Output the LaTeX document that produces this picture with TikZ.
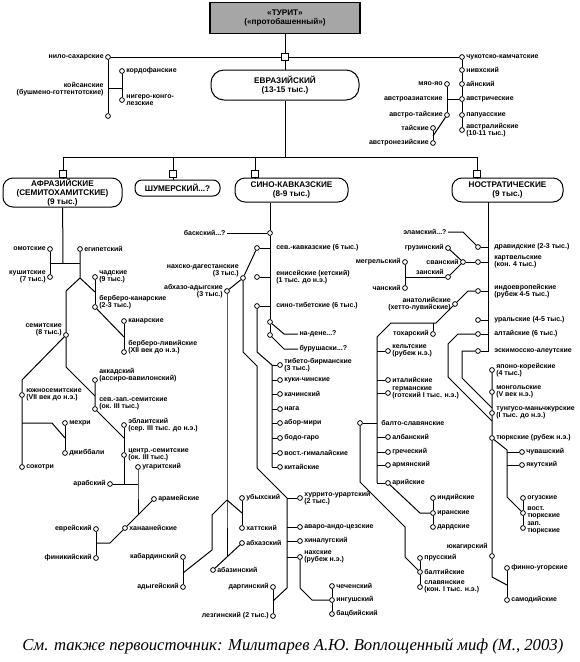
\documentclass[tikz,border=0pt]{standalone}
\usepackage{fontspec}
\setmainfont{Liberation Sans}
\newfontfamily\capfont{Liberation Serif}
\newcommand{\lblfont}{\fontsize{7}{7.4}\selectfont\bfseries}
\newcommand{\boxfont}{\fontsize{8.2}{8.7}\selectfont\bfseries}
\begin{document}
\begin{tikzpicture}[x=1pt,y=-1pt,line width=1pt]
\tikzstyle{dot}=[draw,circle,fill=white,inner sep=0pt,minimum size=4.8pt,line width=0.8pt]
\tikzstyle{sq}=[draw,fill=white,inner sep=0pt,minimum size=6.5pt,line width=0.8pt]
\tikzstyle{lbl}=[font=\lblfont,inner sep=1pt,align=left]
\tikzstyle{fam}=[draw,fill=white,rounded corners=10pt,inner sep=0pt,font=\boxfont,align=center,line width=1pt]
\tikzset{rt/.style={label={[lbl]0:#1}},lt/.style={label={[lbl,align=right]180:#1}},
rtu/.style={label={[lbl,yshift=5pt]0:#1}},ltu/.style={label={[lbl,align=right,yshift=5pt]180:#1}},
rtm/.style={label={[lbl,label distance=12pt]0:#1}},rtc/.style={label={[lbl,label distance=15pt]0:#1}}}
\useasboundingbox (0,0) rectangle (579,662);

\node[draw,fill=black!35,line width=1.2pt,minimum width=150pt,minimum height=31pt,font=\boxfont,align=center,inner sep=0pt] (turit) at (285,18) {«ТУРИТ»\\(«протобашенный»)};
\node[sq] (sqt) at (285,57) {};
\node[fam,minimum width=148pt,minimum height=30pt,rounded corners=13pt] (eur) at (285,85) {ЕВРАЗИЙСКИЙ\\(13-15 тыс.)};
\coordinate (bus) at (285,157);
\draw (turit) -- (sqt) -- (eur) -- (bus);

\path (108,57) node[dot,lt={нило-сахарские}] (ns) {}
 (108,116) node[dot] (nsb) {}
 (122,71) node[dot,rt={кордофанские}] (kord) {}
 (122,100) node[dot,rt={нигеро-конго-\\лезские}] (nk) {};
\coordinate (ks) at (108,88);
\coordinate (ksj) at (122,88);
\node[lbl,align=right,anchor=east] (ksl) at (105,89) {койсанские\\(бушмено-готтентотские)};
\draw (ns) -- (nsb);
\draw (ks) -- (ksj);
\draw (kord) -- (nk);

\path (462,57) node[dot,rt={чукотско-камчатские}] (chk) {}
 (462,70) node[dot,rt={нивхский}] (niv) {}
 (462,84) node[dot,rt={айнский}] (ain) {}
 (462,99) node[dot,rt={австрические}] (austr) {}
 (462,115) node[dot,rt={папуасские}] (pap) {}
 (462,130) node[dot,rt={австралийские\\(10-11 тыс.)}] (ausl) {};
\draw (chk) -- (niv) -- (ain) -- (austr) -- (pap) -- (ausl);
\draw (ns) -- (sqt) -- (chk);

\path (447,84) node[dot,lt={мяо-яо}] (miao) {}
 (447,115) node[dot,lt={австро-тайские}] (autai) {}
 (433,128) node[dot,lt={тайские}] (tai) {}
 (433,143) node[dot,lt={австронезийские}] (an) {};
\coordinate (aaj) at (447,99);
\coordinate (taj) at (433,136);
\node[lbl,anchor=east] (aal) at (444,99) {австроазиатские};
\draw (miao) -- (autai);
\draw (austr) -- (aaj);
\draw (tai) -- (an);
\draw (autai) -- (taj);

\path (63,174) node[sq] (sqa) {} (173,174) node[sq] (sqs) {} (255,174) node[sq] (sqc) {} (477,174) node[sq] (sqn) {};
\node[fam,minimum width=119pt,minimum height=29pt] (afr) at (62.5,192.5) {АФРАЗИЙСКИЕ\\(СЕМИТОХАМИТСКИЕ)\\(9 тыс.)};
\node[fam,minimum width=85pt,minimum height=16pt,rounded corners=7pt] (sum) at (177.5,188) {ШУМЕРСКИЙ...?};
\node[fam,minimum width=113pt,minimum height=24pt] (sc) at (291.5,190) {СИНО-КАВКАЗСКИЕ\\(8-9 тыс.)};
\node[fam,minimum width=111pt,minimum height=24pt] (nos) at (507.5,190) {НОСТРАТИЧЕСКИЕ\\(9 тыс.)};
\draw (sqa |- bus) -- (sqn |- bus);
\draw (sqa |- bus) -- (sqa) -- (sqa |- afr.north);
\draw (sqs |- bus) -- (sqs) -- (sqs |- sum.north);
\draw (sqc |- bus) -- (sqc) -- (sqc |- sc.north);
\draw (sqn |- bus) -- (sqn) -- (sqn |- nos.north);

\path (50,249) node[dot,lt={омотские}] (omot) {}
 (50,277) node[dot,lt={кушитские\\(7 тыс.)}] (kush) {}
 (80,249) node[dot,rt={египетский}] (egy) {}
 (95,277) node[dot,rt={чадские\\(9 тыс.)}] (chad) {}
 (95,307) node[dot,rtu={берберо-канарские\\(2-3 тыс.)}] (bk) {}
 (124,321) node[dot,rt={канарские}] (can) {}
 (124,352) node[dot,rtu={берберо-ливийские\\(XII век до н.э.)}] (bl) {};
\coordinate (aj) at (63,263);
\coordinate (ajl) at (50,263);
\coordinate (ajr) at (80,263);
\coordinate (ej) at (80,278);
\coordinate (ejl) at (66,291);
\coordinate (ejr) at (95,292);
\coordinate (bkj) at (124,337);
\draw (afr) -- (aj);
\draw (ajl) -- (ajr);
\draw (omot) -- (kush);
\draw (egy) -- (ej) -- (ejr);
\draw (chad) -- (bk);
\draw (bk) -- (bkj);
\draw (can) -- (bl);

\path (66,335) node[dot,ltu={семитские\\(8 тыс.)}] (sem) {}
 (22,395) node[dot,rt={южносемитские\\(VII век до н.э.)}] (ssem) {}
 (22,467) node[dot,rt={сокотри}] (sok) {}
 (65,423) node[dot,rt={мехри}] (meh) {}
 (65,453) node[dot,rt={джиббали}] (jib) {}
 (95,380) node[dot,rtu={аккадский\\(ассиро-вавилонский)}] (akk) {}
 (95,409) node[dot,rtu={сев.-зап.-семитские\\(ок. III тыс.)}] (nws) {}
 (124,425) node[dot,rt={эблаитский\\(сер. III тыс. до н.э.)}] (ebl) {}
 (124,455) node[dot,rt={центр.-семитские\\(ок. III тыс.)}] (cs) {}
 (110,484) node[dot,lt={арабский}] (arab) {}
 (138,467) node[dot,rt={угаритский}] (ugar) {}
 (154,499) node[dot,rt={арамейские}] (aram) {}
 (125,528) node[dot,rt={ханаанейские}] (kan) {}
 (96,529) node[dot,lt={еврейский}] (hebr) {}
 (96,558) node[dot,lt={финикийский}] (phoen) {};
\coordinate (sj1) at (22,380);
\coordinate (mj1) at (22,423);
\coordinate (mj2) at (52,423);
\coordinate (mj3) at (65,438);
\coordinate (sj2) at (66,367);
\coordinate (sj3) at (95,396);
\coordinate (nj) at (124,438);
\coordinate (csj) at (124,484);
\coordinate (ugj) at (138,484);
\coordinate (ugj2) at (138,515);
\coordinate (hj) at (110,543);
\coordinate (hj2) at (96,543);
\draw (ej) -- (ejl) -- (sem);
\draw (sem) -- (sj1) -- (ssem) -- (sok);
\draw (mj1) -- (mj2) -- (mj3);
\draw (meh) -- (jib);
\draw (sem) -- (sj2) -- (sj3);
\draw (akk) -- (nws) -- (nj);
\draw (ebl) -- (cs) -- (csj);
\draw (arab) -- (ugj);
\draw (ugar) -- (ugj) -- (ugj2);
\draw (aram) -- (kan) -- (hj) -- (hj2);
\draw (hebr) -- (phoen);

\path (270,233) node[dot] (bask) {}
 (257,248) node[dot,rtc={сев.-кавказские (6 тыс.)}] (nc) {}
 (243,278) node[dot,label={[lbl,align=right,yshift=7pt]180:нахско-дагестанские\\(3 тыс.)}] (nd) {}
 (227,291) node[dot,lt={абхазо-адыгские\\(3 тыс.)}] (aa) {}
 (257,277) node[dot,rtc={енисейские (кетский)\\(1 тыс. до н.э.)}] (yen) {}
 (257,306) node[dot,rtc={сино-тибетские (6 тыс.)}] (st) {}
 (270,322) node[dot] (nad) {}
 (270,335) node[dot] (bur) {};
\node[lbl,anchor=east] (baskl) at (227,233) {баскский...?};
\node[lbl,anchor=west] (nadl) at (298,334) {на-дене...?};
\node[lbl,anchor=west] (burl) at (298,349) {бурушаски...?};
\coordinate (nadj) at (284,334);
\coordinate (burj) at (284,349);
\draw (baskl) -- (bask);
\draw (nad) -- (nadj) -- (nadl);
\draw (bur) -- (burj) -- (burl);
\draw (bask |- sc.south) -- (bask) -- (nad) -- (bur);
\draw (nc) -- (nc -| bask);
\draw (yen) -- (yen -| bask);
\draw (st) -- (st -| bask);
\draw (nc) -- (nd) -- (aa);

\path (280,365) node[dot,rt={тибето-бирманские\\(3 тыс.)}] (tb) {}
 (280,380) node[dot,rt={куки-чинские}] (kuki) {}
 (280,394) node[dot,rt={качинский}] (kach) {}
 (280,409) node[dot,rt={нага}] (naga) {}
 (280,423) node[dot,rt={абор-мири}] (abor) {}
 (280,438) node[dot,rt={бодо-гаро}] (bodo) {}
 (280,453) node[dot,rt={вост.-гималайские}] (vgim) {}
 (280,467) node[dot,rt={китайские}] (chin) {};
\coordinate (stj1) at (257,352);
\coordinate (stj2) at (272,365);
\coordinate (stj3) at (272,467);
\draw (st) -- (stj1) -- (stj2) -- (stj3);
\draw (tb) -- (tb -| stj2);
\draw (kuki) -- (kuki -| stj2);
\draw (kach) -- (kach -| stj2);
\draw (naga) -- (naga -| stj2);
\draw (abor) -- (abor -| stj2);
\draw (bodo) -- (bodo -| stj2);
\draw (vgim) -- (vgim -| stj2);
\draw (chin) -- (chin -| stj2);

\path (300,498) node[dot,rt={хуррито-урартский\\(2 тыс.)}] (hur) {}
 (300,527) node[dot,rt={аваро-андо-цезские}] (avar) {}
 (300,541) node[dot,rt={хиналугский}] (khin) {}
 (300,557) node[dot,rt={нахские\\(рубеж н.э.)}] (nakh) {}
 (332,586) node[dot,rt={чеченский}] (chech) {}
 (332,600) node[dot,rt={ингушский}] (ing) {}
 (332,614) node[dot,rt={бацбийский}] (bats) {}
 (273,587) node[dot,lt={даргинский}] (darg) {}
 (273,616) node[dot,lt={лезгинский (2 тыс.)}] (lezg) {};
\coordinate (ndj1) at (243,352);
\coordinate (ndj2) at (257,366);
\coordinate (ndj3) at (257,468);
\coordinate (ndj4) at (287,498);
\coordinate (ndj5) at (287,588);
\coordinate (ndj6) at (273,601);
\coordinate (nkj1) at (300,588);
\coordinate (nkj2) at (312,600);
\draw (nd) -- (ndj1) -- (ndj2) -- (ndj3) -- (ndj4) -- (ndj5) -- (ndj6);
\draw (hur) -- (hur -| ndj4);
\draw (avar) -- (avar -| ndj4);
\draw (khin) -- (khin -| ndj4);
\draw (nakh) -- (nakh -| ndj4);
\draw (nakh) -- (nkj1) -- (nkj2) -- (ing);
\draw (chech) -- (ing) -- (bats);
\draw (darg) -- (lezg);

\path (242,498) node[dot,rt={убыхский}] (ubykh) {}
 (242,528) node[dot,rt={хаттский}] (hatt) {}
 (242,543) node[dot,rt={абхазский}] (abkh) {}
 (213,570) node[dot,rt={абазинский}] (abaz) {}
 (183,557) node[dot,lt={кабардинский}] (kab) {}
 (183,587) node[dot,lt={адыгейский}] (adyg) {};
\coordinate (aaj1) at (227,500);
\coordinate (aaj2) at (212,515);
\coordinate (aaj3) at (212,550);
\coordinate (aaj4) at (227,557);
\coordinate (kj) at (183,573);
\coordinate (uhj) at (242,513);
\draw (aa) -- (aaj1) -- (aaj4);
\draw (aaj1) -- (uhj);
\draw (ubykh) -- (hatt);
\draw (aaj1) -- (aaj2) -- (aaj3) -- (kj);
\draw (kab) -- (adyg);
\draw (abkh) -- (abaz);

\coordinate (nostop) at (488,202);
\path (478,247) node[dot,rtm={дравидские (2-3 тыс.)}] (drav) {}
 (478,262) node[dot,rtm={картвельские\\(кон. 4 тыс.)}] (kart) {}
 (478,291) node[dot,rtm={индоевропейские\\(рубеж 4-5 тыс.)}] (ie) {}
 (478,320) node[dot,rtm={уральские (4-5 тыс.)}] (ural) {}
 (478,334) node[dot,rtm={алтайские (6 тыс.)}] (alt) {}
 (478,351) node[dot,rtm={эскимосско-алеутские}] (esk) {};
\draw (nostop) -- (nostop |- esk) -- (esk);
\draw (drav) -- (drav -| nostop);
\draw (kart) -- (kart -| nostop);
\draw (ie) -- (ie -| nostop);
\draw (ural) -- (ural -| nostop);
\draw (alt) -- (alt -| nostop);

\node[lbl,anchor=east] (elaml) at (448,232) {эламский...?};
\coordinate (elj) at (463,232);
\draw (elaml) -- (elj) -- (drav);
\path (463,262) node[dot,lt={сванский}] (svan) {}
 (448,248) node[dot,lt={грузинский}] (gruz) {}
 (448,277) node[dot,label={[lbl,yshift=5pt]180:занский}] (zan) {}
 (405,262) node[dot,lt={мегрельский}] (megr) {}
 (405,288) node[dot,lt={чанский}] (chan) {};
\coordinate (zj) at (405,277);
\draw (kart) -- (svan);
\draw (svan) -- (gruz);
\draw (svan) -- (zan);
\draw (megr) -- (chan);
\draw (zj) -- (zan);

\path (455,304) node[dot,lt={анатолийские\\(хетто-лувийские)}] (anat) {}
 (433,334) node[dot,lt={тохарский}] (toch) {}
 (388,351) node[dot,rt={кельтские\\(рубеж н.э.)}] (celt) {}
 (388,380) node[dot,rt={италийские}] (ital) {}
 (388,393) node[dot,rt={германские\\(готский I тыс. н.э.)}] (germ) {}
 (360,423) node[dot,label={[lbl,label distance=17pt]0:балто-славянские}] (bsl) {}
 (388,437) node[dot,rt={албанский}] (alb) {}
 (388,452) node[dot,rt={греческий}] (greek) {}
 (388,465) node[dot,rt={армянский}] (arm) {}
 (388,483) node[dot,rt={арийские}] (ari) {}
 (433,498) node[dot,rt={индийские}] (ind) {}
 (433,513) node[dot,rt={иранские}] (iran) {}
 (433,527) node[dot,rt={дардские}] (dard) {}
 (420,558) node[dot,rt={прусский}] (prus) {}
 (420,572) node[dot,rt={балтийские}] (balt) {}
 (420,587) node[dot,rt={славянские\\(кон. I тыс. н.э.)}] (slav) {};
\coordinate (iej1) at (468,291);
\coordinate (iej2) at (436,323);
\coordinate (iej3) at (391,323);
\coordinate (iej4) at (377,337);
\coordinate (iej5) at (377,483);
\draw (ie) -- (iej1) -- (anat) -- (iej2) -- (iej3) -- (iej4) -- (iej5);
\draw (toch) -- (toch |- iej2);
\draw (celt) -- (celt -| iej4);
\draw (ital) -- (ital -| iej4);
\draw (germ) -- (germ -| iej4);
\draw (bsl) -- (bsl -| iej4);
\draw (alb) -- (alb -| iej4);
\draw (greek) -- (greek -| iej4);
\draw (arm) -- (arm -| iej4);
\draw (ari) -- (iej5);
\coordinate (bsj1) at (360,482);
\coordinate (bsj2) at (405,527);
\coordinate (bsj3) at (405,557);
\draw (bsl) -- (bsj1) -- (bsj2) -- (bsj3) -- (balt);
\draw (prus) -- (balt) -- (slav);
\coordinate (arj) at (420,513);
\draw (ari) -- (arj) -- (iran);
\draw (ind) -- (iran) -- (dard);

\path (492,370) node[dot,rt={японо-корейские\\(4 тыс.)}] (jk) {}
 (492,392) node[dot,rt={монгольские\\(V век н.э.)}] (mong) {}
 (492,413) node[dot,rt={тунгусо-маньчжурские\\(I тыс. до н.э.)}] (tung) {}
 (492,438) node[dot,rt={тюркские (рубеж н.э.)}] (turk) {}
 (522,452) node[dot,rt={чувашский}] (chuv) {}
 (522,465) node[dot,rt={якутский}] (yak) {}
 (523,498) node[dot,rt={огузские}] (oguz) {}
 (523,513) node[dot,rt={вост.\\тюркские}] (vt) {}
 (523,528) node[dot,rt={зап.\\тюркские}] (zt) {}
 (492,556) node[dot,label={[lbl,align=right,yshift=9pt]180:юкагирский}] (yuk) {}
 (507,568) node[dot,rt={финно-угорские}] (fu) {}
 (507,600) node[dot,rt={самодийские}] (sam) {};
\coordinate (al1) at (458,334);
\coordinate (al2) at (448,344);
\coordinate (al3) at (448,377);
\coordinate (al4) at (492,421);
\coordinate (ur1) at (462,351);
\coordinate (ur2) at (462,378);
\coordinate (ur3) at (492,408);
\coordinate (uj1) at (492,577);
\coordinate (uj2) at (507,585);
\coordinate (tj1) at (507,450);
\coordinate (tj2) at (507,497);
\draw (alt) -- (al1) -- (al2) -- (al3) -- (al4);
\draw (esk) -- (ur1) -- (ur2) -- (ur3);
\draw (jk) -- (mong) -- (tung) -- (turk) -- (yuk) -- (uj1) -- (uj2);
\draw (fu) -- (sam);
\draw (turk) -- (tj1) -- (tj2) -- (vt);
\draw (chuv) -- (chuv -| tj1);
\draw (yak) -- (yak -| tj1);
\draw (oguz) -- (vt) -- (zt);

\node[font=\capfont\itshape\fontsize{16.7}{18}\selectfont,anchor=west,inner sep=0pt] (cap) at (22,646) {См. также первоисточник: Милитарев А.Ю. Воплощенный миф (М., 2003)};
\end{tikzpicture}
\end{document}
